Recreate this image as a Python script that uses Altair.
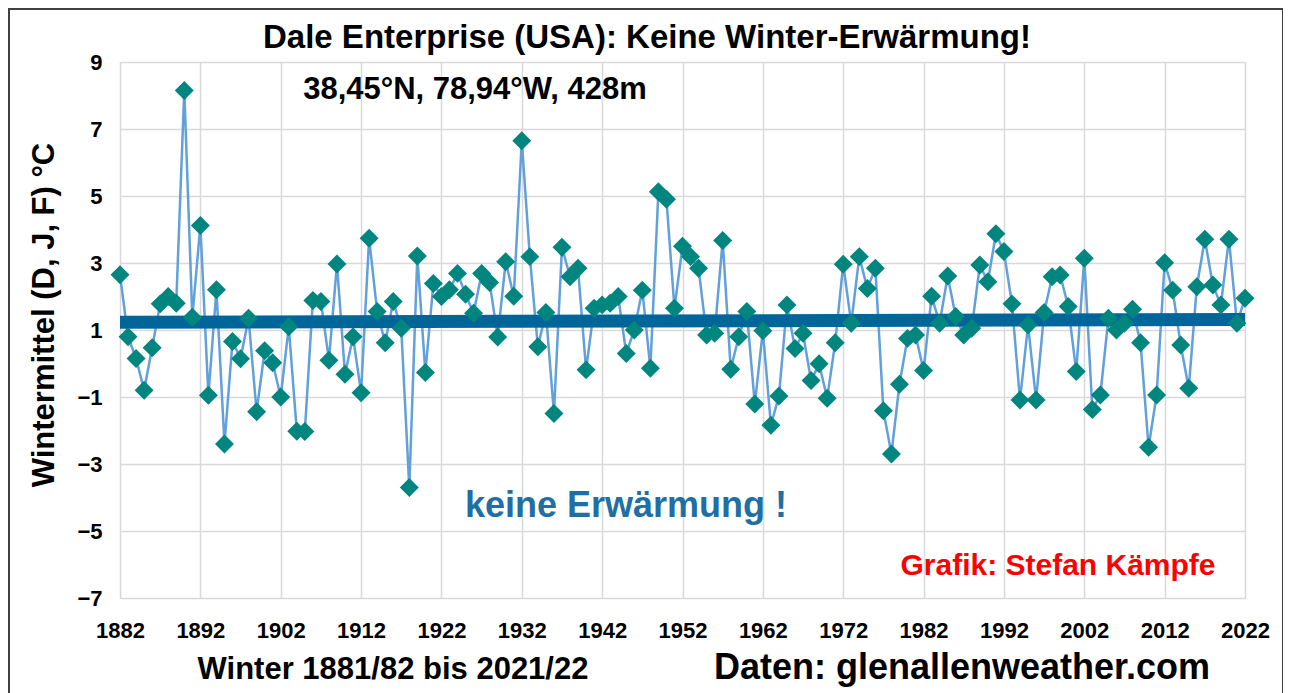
import altair as alt
import pandas as pd

# Winter years (1881/82 ... 2021/22 labelled by the January year)
years = list(range(1882, 2023))
winter_mean = [
    2.65, 0.80, 0.15, -0.80, 0.47, 1.78, 2.00, 1.80, 8.15, 1.38,
    4.12, -0.95, 2.20, -2.40, 0.66, 0.14, 1.35, -1.44, 0.38, 0.02,
    -1.00, 1.10, -2.02, -2.03, 1.88, 1.85, 0.10, 2.97, -0.32, 0.80,
    -0.87, 3.74, 1.55, 0.62, 1.85, 1.05, -3.70, 3.21, -0.27, 2.39,
    2.00, 2.20, 2.69, 2.07, 1.50, 2.69, 2.42, 0.79, 3.04, 2.01,
    6.65, 3.19, 0.50, 1.52, -1.49, 3.47, 2.59, 2.84, -0.19, 1.65,
    1.75, 1.80, 2.00, 0.30, 1.00, 2.19, -0.14, 5.13, 4.90, 1.65,
    3.50, 3.19, 2.84, 0.85, 0.90, 3.67, -0.17, 0.80, 1.55, -1.21,
    0.98, -1.84, -0.97, 1.75, 0.45, 0.90, -0.51, -0.01, -1.04, 0.62,
    2.96, 1.20, 3.19, 2.24, 2.84, -1.41, -2.70, -0.62, 0.75, 0.85,
    -0.21, 2.01, 1.20, 2.61, 1.40, 0.85, 1.05, 2.94, 2.44, 3.87,
    3.34, 1.78, -1.09, 1.15, -1.09, 1.52, 2.59, 2.64, 1.70, -0.24,
    3.14, -1.37, -0.94, 1.35, 1.00, 1.20, 1.62, 0.62, -2.50, -0.94,
    3.01, 2.19, 0.55, -0.74, 2.29, 3.71, 2.34, 1.75, 3.71, 1.20,
    1.95,
]
x_ticks = list(range(1882, 2023, 10))
y_ticks = [-7, -5, -3, -1, 1, 3, 5, 7, 9]

title_text = "Dale Enterprise (USA): Keine Winter-Erwärmung!"
station_text = "38,45°N, 78,94°W, 428m"
trend_text = "keine Erwärmung !"
credit_text = "Grafik: Stefan Kämpfe"
xtitle_text = "Winter 1881/82 bis 2021/22"
source_text = "Daten: glenallenweather.com"
ytitle_text = "Wintermittel (D, J, F) °C"

n = min(len(years), len(winter_mean))
df = pd.DataFrame({"year": years[:n], "temp": winter_mean[:n]})

FONT = "Liberation Sans"
W, H = 1125, 536

xscale = alt.Scale(domain=[1882, 2022], nice=False, zero=False)
yscale = alt.Scale(domain=[-7, 9], nice=False, zero=False)

xenc = alt.X("year:Q", scale=xscale, title=None,
             axis=alt.Axis(values=x_ticks, format="d", grid=True, ticks=False,
                           domain=False, labelFontSize=22, labelFontWeight="bold",
                           labelFont=FONT, labelColor="#000000", labelPadding=22,
                           labelFlush=False, labelOverlap=False,
                           gridColor="#d9d9d9", gridWidth=1.5))
yenc = alt.Y("temp:Q", scale=yscale, title=None,
             axis=alt.Axis(values=y_ticks, format="d", grid=True, ticks=False,
                           domain=False, labelFontSize=22, labelFontWeight="bold",
                           labelFont=FONT, labelColor="#000000", labelPadding=18,
                           labelFlush=False, labelOverlap=False,
                           gridColor="#d9d9d9", gridWidth=1.5))

base = alt.Chart(df)

line = base.mark_line(color="#62A0DB", strokeWidth=2.5).encode(x=xenc, y=yenc)
points = base.mark_point(shape="diamond", filled=True, size=360, color="#00857F",
                         opacity=1).encode(x="year:Q", y="temp:Q")
trend = base.transform_regression("year", "temp").mark_line(
    color="#006699", strokeWidth=13).encode(x="year:Q", y="temp:Q")

one = alt.Data(values=[{"k": 1}])


def label(text, px, py, size, color="#000000", angle=0, font=FONT):
    return alt.Chart(one).mark_text(
        text=text, font=font, fontWeight="bold", fontSize=size, color=color,
        align="center", baseline="middle", angle=angle,
    ).encode(x=alt.value(px), y=alt.value(py))


frame = alt.Chart(one).mark_rect(
    fill=None, stroke="#404040", strokeWidth=2, clip=False
).encode(x=alt.value(-111), x2=alt.value(1163), y=alt.value(-53), y2=alt.value(640))

chart = alt.layer(
    frame,
    line,
    trend,
    points,
    label(title_text, 527, -24, 33),
    label(station_text, 355, 28, 31),
    label(trend_text, 506, 444, 36, color="#1F6FA5"),
    label(credit_text, 938, 504, 30, color="#FF0000"),
    label(xtitle_text, 273, 608, 31),
    label(source_text, 842, 606, 36),
    label(ytitle_text, -75, 253, 31, angle=270),
).properties(
    width=W, height=H,
    autosize=alt.AutoSizeParams(type="none"),
    padding={"left": 112, "top": 54, "right": 38, "bottom": 95},
).configure_view(
    stroke="#808080", strokeWidth=1.5
).configure(background="#ffffff")

chart.save("out.html", embed_options={"renderer": "svg", "actions": False})
